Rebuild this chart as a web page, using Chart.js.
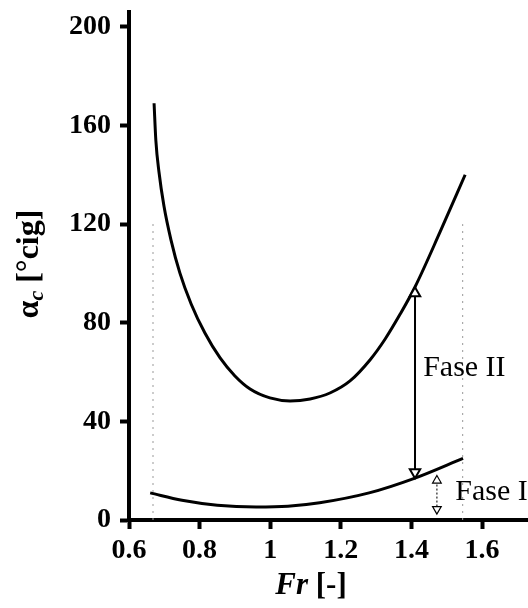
<!DOCTYPE html>
<html>
<head>
<meta charset="utf-8">
<script src="https://cdn.jsdelivr.net/npm/chart.js@4.4.1/dist/chart.umd.min.js"></script>
<style>
  html, body { margin: 0; padding: 0; background: #fff; }
  #wrap { width: 528px; height: 608px; }
</style>
</head>
<body>
<div id="wrap"><canvas id="chart" width="528" height="608"></canvas></div>
<script>
// upper curve (Fase II boundary)
const frUpper = [0.671, 0.676, 0.685, 0.699, 0.719, 0.744, 0.776, 0.815, 0.858, 0.900, 0.943, 0.999, 1.056, 1.113, 1.169, 1.226, 1.283, 1.325, 1.368, 1.410, 1.481, 1.552];
const alphaUpper = [169, 154, 141, 127.3, 113.5, 100.2, 87.6, 75.8, 65.7, 58.4, 53.1, 49.5, 48.3, 49.1, 51.5, 56.4, 65, 73.3, 83.5, 94.5, 116.8, 140];

// lower curve (Fase I boundary)
const frLower = [0.66, 0.75, 0.85, 0.96, 1.05, 1.14, 1.28, 1.41, 1.546];
const alphaLower = [11, 8, 6, 5.3, 5.6, 7, 11, 17, 25];

// dotted limits of the Fr range
const frLimits = [0.668, 1.545];
const limitTop = [122, 120];

// arrows: Fr position, head centres (top, bottom)
const faseIIFr = 1.41;
const faseIIShaft = [92, 19.4];
const faseIFr = 1.472;
const faseIShaft = [16, 4.4];

const xTickValues = [0.6, 0.8, 1, 1.2, 1.4, 1.6];
const yTickValues = [0, 40, 80, 120, 160, 200];

const labelNames = ["Fase II", "Fase I"];
const labelFr = [1.433, 1.524];
const labelAlpha = [58.5, 8.1];

const SERIF = "'Liberation Serif', 'Times New Roman', serif";

function pts(xs, ys) {
  return xs.map((x, i) => ({ x: x, y: ys[i] }));
}

const textPlugin = {
  id: "texts",
  afterDraw(chart) {
    const ctx = chart.ctx;
    const xs = chart.scales.x;
    const ys = chart.scales.y;
    ctx.save();
    ctx.fillStyle = "#000";

    // phase labels
    ctx.font = "30px " + SERIF;
    ctx.textAlign = "left";
    ctx.textBaseline = "alphabetic";
    labelNames.forEach((t, i) => {
      ctx.fillText(t, xs.getPixelForValue(labelFr[i]), ys.getPixelForValue(labelAlpha[i]));
    });

    // x axis title: Fr [-]
    ctx.font = "italic bold 31px " + SERIF;
    const w1 = ctx.measureText("Fr").width;
    ctx.font = "bold 31px " + SERIF;
    const w2 = ctx.measureText(" [-]").width;
    let x0 = 311 - (w1 + w2) / 2;
    ctx.font = "italic bold 31px " + SERIF;
    ctx.fillText("Fr", x0, 594);
    ctx.font = "bold 31px " + SERIF;
    ctx.fillText(" [-]", x0 + w1, 594);

    // y axis title: alpha_c [°cig]
    ctx.translate(38, 264);
    ctx.rotate(-Math.PI / 2);
    ctx.font = "bold 32px " + SERIF;
    const a = ctx.measureText("\u03b1").width;
    ctx.font = "italic bold 22px " + SERIF;
    const c = ctx.measureText("c").width;
    ctx.font = "bold 32px " + SERIF;
    const r = ctx.measureText(" [\u00b0cig]").width;
    let s = -(a + c + r) / 2;
    ctx.fillText("\u03b1", s, 0);
    ctx.font = "italic bold 22px " + SERIF;
    ctx.fillText("c", s + a, 5);
    ctx.font = "bold 32px " + SERIF;
    ctx.fillText(" [\u00b0cig]", s + a + c, 0);
    ctx.restore();
  }
};

const ctx = document.getElementById("chart").getContext("2d");

new Chart(ctx, {
  type: "scatter",
  data: {
    datasets: [
      {
        // arrow heads
        data: [
          { x: faseIIFr, y: faseIIShaft[0] }, { x: faseIIFr, y: faseIIShaft[1] },
          { x: faseIFr, y: faseIShaft[0] }, { x: faseIFr, y: faseIShaft[1] }
        ],
        showLine: false,
        pointStyle: "triangle",
        pointRadius: [6, 6, 5, 5],
        pointRotation: [0, 180, 0, 180],
        pointBackgroundColor: "#fff",
        pointBorderColor: "#000",
        pointBorderWidth: [2, 2, 1.2, 1.2],
        order: 0
      },
      {
        data: pts(frUpper, alphaUpper),
        showLine: true,
        borderColor: "#000",
        borderWidth: 3,
        pointRadius: 0,
        cubicInterpolationMode: "monotone",
        order: 1
      },
      {
        data: pts(frLower, alphaLower),
        showLine: true,
        borderColor: "#000",
        borderWidth: 3,
        pointRadius: 0,
        cubicInterpolationMode: "monotone",
        order: 1
      },
      {
        data: pts([faseIIFr, faseIIFr], faseIIShaft),
        showLine: true,
        borderColor: "#000",
        borderWidth: 2,
        pointRadius: 0,
        order: 2
      },
      {
        data: pts([faseIFr, faseIFr], faseIShaft),
        showLine: true,
        borderColor: "#222",
        borderWidth: 1.2,
        borderDash: [2, 2],
        pointRadius: 0,
        order: 2
      },
      {
        data: pts([frLimits[0], frLimits[0]], [0, limitTop[0]]),
        showLine: true,
        borderColor: "#999",
        borderWidth: 1,
        borderDash: [2, 5],
        pointRadius: 0,
        order: 3
      },
      {
        data: pts([frLimits[1], frLimits[1]], [0, limitTop[1]]),
        showLine: true,
        borderColor: "#999",
        borderWidth: 1,
        borderDash: [2, 5],
        pointRadius: 0,
        order: 3
      }
    ]
  },
  options: {
    responsive: false,
    animation: false,
    layout: { autoPadding: false, padding: { top: 12, right: 0, left: 0, bottom: 0 } },
    plugins: {
      legend: { display: false },
      tooltip: { enabled: false }
    },
    scales: {
      x: {
        type: "linear",
        min: 0.6,
        max: 1.73,
        afterFit(scale) {
          scale.height = 88;
          scale.paddingLeft = 0;
          scale.paddingRight = 0;
        },
        afterBuildTicks(scale) { scale.ticks = xTickValues.map(v => ({ value: v })); },
        border: { display: true, color: "#000", width: 4 },
        grid: { drawOnChartArea: false, drawTicks: true, tickLength: 9, tickWidth: 4, tickColor: "#000" },
        ticks: {
          color: "#000",
          padding: 5,
          font: { family: SERIF, size: 28, weight: "bold" },
          callback: v => String(v)
        }
      },
      y: {
        type: "linear",
        min: 0,
        max: 206,
        afterFit(scale) {
          scale.width = 129;
          scale.paddingTop = 0;
          scale.paddingBottom = 0;
        },
        afterBuildTicks(scale) { scale.ticks = yTickValues.map(v => ({ value: v })); },
        border: { display: true, color: "#000", width: 4 },
        grid: { drawOnChartArea: false, drawTicks: true, tickLength: 9, tickWidth: 4, tickColor: "#000" },
        ticks: {
          color: "#000",
          padding: 9,
          font: { family: SERIF, size: 28, weight: "bold" },
          callback: v => String(v)
        }
      }
    }
  },
  plugins: [textPlugin]
});
</script>
</body>
</html>
